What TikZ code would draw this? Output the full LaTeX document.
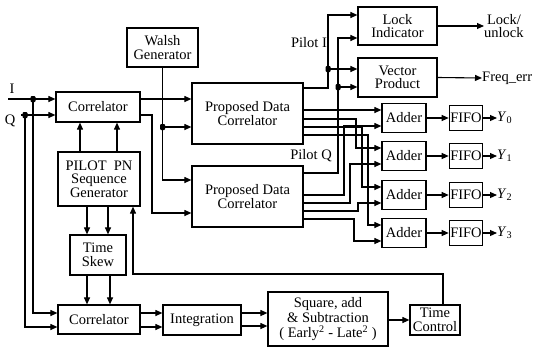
\documentclass[tikz,border=0pt]{standalone}
\usepackage{fontspec}
\setmainfont{Liberation Serif}
\usetikzlibrary{arrows.meta}
\begin{document}
\begin{tikzpicture}[x=1pt,y=-1pt,
  blk/.style={draw, line width=1.2pt, inner sep=1pt, align=center, font=\fontsize{14.5}{13.5}\selectfont},
  arr/.style={line width=1.1pt, -{Triangle[length=7pt,width=6pt]}},
  ln/.style={line width=1.1pt},
  lbl/.style={font=\fontsize{14.5}{13}\selectfont, inner sep=0pt, align=center},
  dot/.style={fill, rectangle, rounded corners=1pt, minimum width=5pt, minimum height=6pt, inner sep=0pt}]
\useasboundingbox (0,0) rectangle (533,348);
% blocks
\node[blk, minimum width=71pt, minimum height=39pt] (walsh) at (162.5,47.5) {Walsh\\Generator};
\node[blk, minimum width=84pt, minimum height=30pt] (corr1) at (98,107) {Correlator};
\node[blk, minimum width=111pt, minimum height=61pt] (pdc1) at (247.5,113.5) {Proposed Data\\Correlator};
\node[blk, minimum width=111pt, minimum height=61pt] (pdc2) at (247.5,196.5) {Proposed Data\\Correlator};
\node[blk, minimum width=82pt, minimum height=54pt] (pn) at (99,179) {PILOT\ \ PN\\Sequence\\Generator};
\node[blk, minimum width=56pt, minimum height=40pt] (ts) at (98,255) {Time\\Skew};
\node[blk, minimum width=82pt, minimum height=29pt] (corr2) at (99,319.5) {Correlator};
\node[blk, minimum width=78pt, minimum height=30pt] (integ) at (202,320) {Integration};
\node[blk, minimum width=120pt, minimum height=54pt, font=\fontsize{14.5}{15}\selectfont] (sq) at (328,319) {Square, add\\\& Subtraction\\( Early\textsuperscript{2} - Late\textsuperscript{2} )};
\node[blk, minimum width=50pt, minimum height=30pt] (tc) at (435,320) {Time\\Control};
\node[blk, minimum width=79pt, minimum height=38pt] (lock) at (397.5,26) {Lock\\Indicator};
\node[blk, minimum width=79pt, minimum height=39pt] (vec) at (397.5,77.5) {Vector\\Product};
\foreach \i/\yy in {0/118,1/156,2/195,3/233}{
  \node[blk, minimum width=44pt, minimum height=29pt] (add\i) at (404,\yy) {Adder};
  \node[blk, minimum width=30pt, minimum height=25pt] (fifo\i) at (466,\yy) {FIFO};
  \node[lbl, anchor=west] (y\i) at (497,\yy) {\textit{Y}\textsubscript{\i}};
  \draw[arr] (add\i.east) -- (fifo\i.west);
  \draw[arr] (fifo\i.east) -- (y\i.west);
}
% labels
\node[lbl] (lI) at (12,89) {I};
\node[lbl] (lQ) at (10,121) {Q};
\node[lbl] (lpi) at (309,43) {Pilot I};
\node[lbl] (lpq) at (311,156) {Pilot Q};
\node[lbl, anchor=west] (lockout) at (484,26) {Lock/\\unlock};
\node[lbl, anchor=west] (freq) at (482,78) {Freq\_err};
% input coordinates and dots
\coordinate (Iin) at (8,99);
\coordinate (Qin) at (21,115);
\node[dot] (dI) at (33,99) {};
\node[dot] (dQ) at (25,115) {};
\node[dot] (dW) at (162.5,127) {};
\node[dot] (dPI) at (328,69) {};
\node[dot] (dPQ) at (338,87) {};
% left side connectors
\draw[arr] (Iin) -- ([yshift=8pt]corr1.west);
\draw[arr] (Qin) -- ([yshift=-8pt]corr1.west);
\draw[arr] (dI.center) |- ([yshift=6.5pt]corr2.west);
\draw[arr] (dQ.center) |- ([yshift=-7.5pt]corr2.west);
\draw[arr] ([yshift=8pt]corr1.east) -- ([yshift=14.5pt]pdc1.west);
\draw[arr] ([yshift=-8pt]corr1.east) -- (152,115) -- (152,213) -- ([yshift=-16.5pt]pdc2.west);
\draw[arr] (walsh.south) |- ([yshift=16.5pt]pdc2.west);
\draw[arr] (dW.center) -- ([yshift=-13.5pt]pdc1.west);
\draw[arr] ([xshift=-19pt]pn.north) -- ([xshift=-18pt]corr1.south);
\draw[arr] ([xshift=18pt]pn.north) -- ([xshift=19pt]corr1.south);
\draw[arr] ([xshift=-12pt]pn.south) -- ([xshift=-11pt]ts.north);
\draw[arr] ([xshift=9pt]pn.south) -- ([xshift=10pt]ts.north);
\draw[arr] ([xshift=-11pt]ts.south) -- ([xshift=-12pt]corr2.north);
\draw[arr] ([xshift=12pt]ts.south) -- ([xshift=11pt]corr2.north);
\draw[arr] ([xshift=8pt]tc.north) |- (133,274) -- ([xshift=34pt]pn.south);
\draw[arr] ([yshift=6.5pt]corr2.east) -- ([yshift=7pt]integ.west);
\draw[arr] ([yshift=-7.5pt]corr2.east) -- ([yshift=-7pt]integ.west);
\draw[arr] ([yshift=7pt]integ.east) -- ([yshift=6pt]sq.west);
\draw[arr] ([yshift=-6pt]integ.east) -- ([yshift=-7pt]sq.west);
\draw[arr] ([yshift=-1pt]sq.east) -- (tc.west);
% pilot connectors
\draw[arr] ([yshift=25.5pt]pdc1.east) -- (328,88) -- (328,15) -- ([yshift=11pt]lock.west);
\draw[arr] (dPI.center) -- ([yshift=8.5pt]vec.west);
\draw[arr] ([yshift=23.5pt]pdc2.east) -- (338,173) -- (338,38) -- ([yshift=-12pt]lock.west);
\draw[arr] (dPQ.center) -- ([yshift=-9.5pt]vec.west);
\draw[arr] (lock.east) -- (lockout.west);
\draw[arr] (vec.east) -- (freq.west);
% data connectors
\draw[arr] ([yshift=3.5pt]pdc1.east) -- ([yshift=8pt]add0.west);
\draw[arr] ([yshift=-5.5pt]pdc1.east) -- (356,119) -- (356,148) -- ([yshift=8pt]add1.west);
\draw[arr] ([yshift=-13.5pt]pdc1.east) -- (362,127) -- (362,187) -- ([yshift=8pt]add2.west);
\draw[arr] ([yshift=-21.5pt]pdc1.east) -- (368,135) -- (368,225) -- ([yshift=8pt]add3.west);
\draw[arr] ([yshift=1.5pt]pdc2.east) -- (344,195) -- (344,126) -- ([yshift=-8pt]add0.west);
\draw[arr] ([yshift=-6.5pt]pdc2.east) -- (350,203) -- (350,164) -- ([yshift=-8pt]add1.west);
\draw[arr] ([yshift=-14.5pt]pdc2.east) -- (358,211) -- (358,203) -- ([yshift=-8pt]add2.west);
\draw[arr] ([yshift=-22.5pt]pdc2.east) -- (354,219) -- (354,241) -- ([yshift=-8pt]add3.west);
\end{tikzpicture}
\end{document}
